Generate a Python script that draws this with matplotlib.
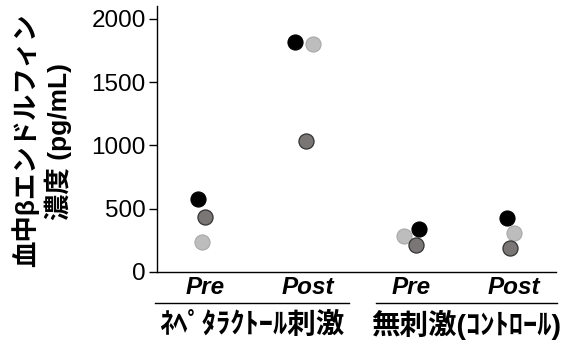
import matplotlib
matplotlib.use("Agg")
import matplotlib.pyplot as plt
import matplotlib.transforms as mtransforms
import numpy as np

plt.rcParams['font.family'] = ['Liberation Sans', 'Noto Sans CJK JP', 'DejaVu Sans']

# ---- data ----
conditions = ["Pre", "Post", "Pre", "Post"]
groups = ["ﾈﾍﾟﾀﾗｸﾄｰﾙ刺激", "無刺激(ｺﾝﾄﾛｰﾙ)"]
subject_black = [577, 1818, 342, 424]
subject_dark = [437, 1038, 216, 192]
subject_light = [237, 1802, 287, 306]
yticks = [0, 500, 1000, 1500, 2000]

# horizontal jitter of each subject's dot (category units)
jit_black = [-0.07, -0.12, 0.08, -0.06]
jit_dark = [0.0, -0.02, 0.05, -0.04]
jit_light = [-0.03, 0.05, -0.07, 0.0]

fig = plt.figure(figsize=(5.79, 3.43), dpi=100)
ax = fig.add_axes([0.271, 0.207, 0.689, 0.7745])

pos = np.arange(len(conditions))
ms = 118
ax.scatter(pos + np.array(jit_light), subject_light, s=ms, c="#bdbdbd", edgecolors="#a8a8a8", linewidths=0.8, zorder=3, clip_on=False)
ax.scatter(pos + np.array(jit_dark), subject_dark, s=ms, c="#7a7676", edgecolors="#333333", linewidths=0.9, zorder=3, clip_on=False)
ax.scatter(pos + np.array(jit_black), subject_black, s=ms, c="#000000", edgecolors="#000000", linewidths=0.8, zorder=4, clip_on=False)

ax.set_xlim(-0.466, 3.41)
ax.set_ylim(0, 2100)
ax.set_yticks(yticks)
ax.set_yticklabels([str(v) for v in yticks], fontsize=17.5)
ax.set_xticks(pos)
ax.set_xticklabels(conditions, fontsize=17.5, fontweight='bold', fontstyle='italic')
ax.tick_params(axis='x', length=0, pad=3)
ax.tick_params(axis='y', length=6, width=1, pad=2)
for s in ["top", "right"]:
    ax.spines[s].set_visible(False)
ax.spines["left"].set_linewidth(1)
ax.spines["bottom"].set_linewidth(1)

trans = mtransforms.blended_transform_factory(ax.transData, fig.transFigure)
yline = 1 - 303 / 343
ylab = 1 - 325 / 343
spans = [(-0.485, 1.40), (1.66, 3.42)]
for (x0, x1), g in zip(spans, groups):
    ax.plot([x0, x1], [yline, yline], color="black", lw=1, transform=trans, clip_on=False)
    ax.text((x0 + x1) / 2, ylab, g, transform=trans, ha="center", va="center",
            fontsize=20.5, fontweight='bold')

fig.text(25 / 579, 1 - 140 / 343, "血中βエンドルフィン", rotation=90, ha="center", va="center",
         fontsize=19, fontweight='bold')
fig.text(58 / 579, 1 - 142 / 343, "濃度 (pg/mL)", rotation=90, ha="center", va="center",
         fontsize=19, fontweight='bold')

fig.savefig("out.png", dpi=100)
